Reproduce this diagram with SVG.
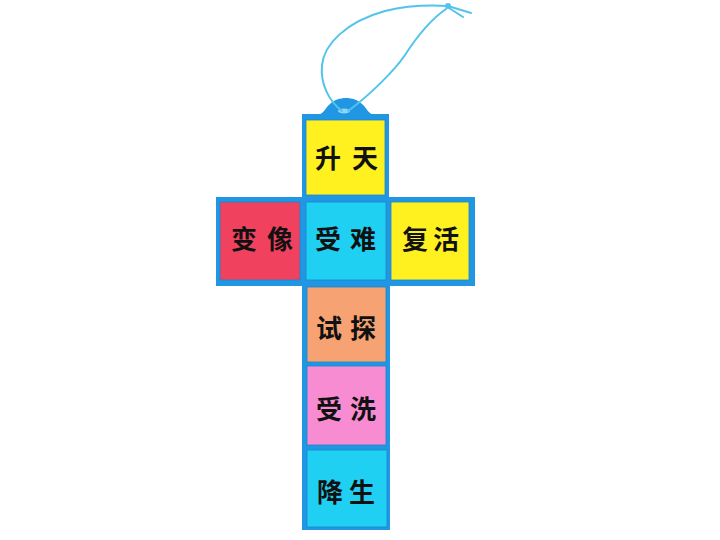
<svg xmlns="http://www.w3.org/2000/svg" width="720" height="540" viewBox="0 0 720 540">
<style>
.frame{fill:#2196E3;}
.tile{stroke:#1a86cf;stroke-width:0.8;}
.yellow{fill:#FFF020;}
.cyan{fill:#1FD0F2;}
.red{fill:#F0425E;}
.orange{fill:#F6A272;}
.pink{fill:#F78CD2;}
.lbl{font-family:"Noto Sans CJK SC","Noto Sans CJK TC",sans-serif;font-weight:700;font-size:26px;fill:#111;text-anchor:middle;}
.string{fill:none;stroke:#52C4EC;stroke-width:2;stroke-linecap:round;}
</style>
<rect width="720" height="540" fill="#ffffff"/>
<g id="cross">
<path class="frame" d="M317,115 C324,114 325,108 330,104 C338,96 354,96 362,104 C367,108 368,114 375,115 Z"/>
<path class="frame" d="M302,114 H389 V197 H475 V286 H390 V530 H302 V286 H216 V197 H302 Z"/>
<ellipse cx="344" cy="111" rx="6" ry="2.5" fill="#8fd6f5"/>
</g>
<g id="string">
<path class="string" d="M342,111 C330,102 320,85 322,65 C324,45 345,22 385,11 C410,5 430,5 447,6"/>
<path class="string" d="M348,111 C370,95 395,70 405,55 C418,35 430,20 446,9"/>
<path class="string" d="M448,6 L471,13"/>
<path class="string" d="M449,8 L463,17"/>
<circle cx="448" cy="6" r="3" fill="#52C4EC"/>
</g>
<g id="node-shengtian">
<rect class="tile yellow" x="306" y="120" width="79" height="75"/>
<text class="lbl" x="328 365" y="168">升天</text>
</g>
<g id="node-bianxiang">
<rect class="tile red" x="220" y="202" width="80" height="78"/>
<text class="lbl" x="244 280" y="249">变像</text>
</g>
<g id="node-shounan">
<rect class="tile cyan" x="306" y="202" width="80" height="78"/>
<text class="lbl" x="328 363" y="249">受难</text>
</g>
<g id="node-fuhuo">
<rect class="tile yellow" x="391" y="202" width="78" height="78"/>
<text class="lbl" x="415 446" y="249">复活</text>
</g>
<g id="node-shitan">
<rect class="tile orange" x="307" y="287" width="79" height="75"/>
<text class="lbl" x="329 363" y="338">试探</text>
</g>
<g id="node-shouxi">
<rect class="tile pink" x="307" y="366" width="79" height="79"/>
<text class="lbl" x="329 363" y="419">受洗</text>
</g>
<g id="node-jiangsheng">
<rect class="tile cyan" x="307" y="450" width="80" height="77"/>
<text class="lbl" x="330 362" y="502">降生</text>
</g>
<g id="connectors"></g>
</svg>
